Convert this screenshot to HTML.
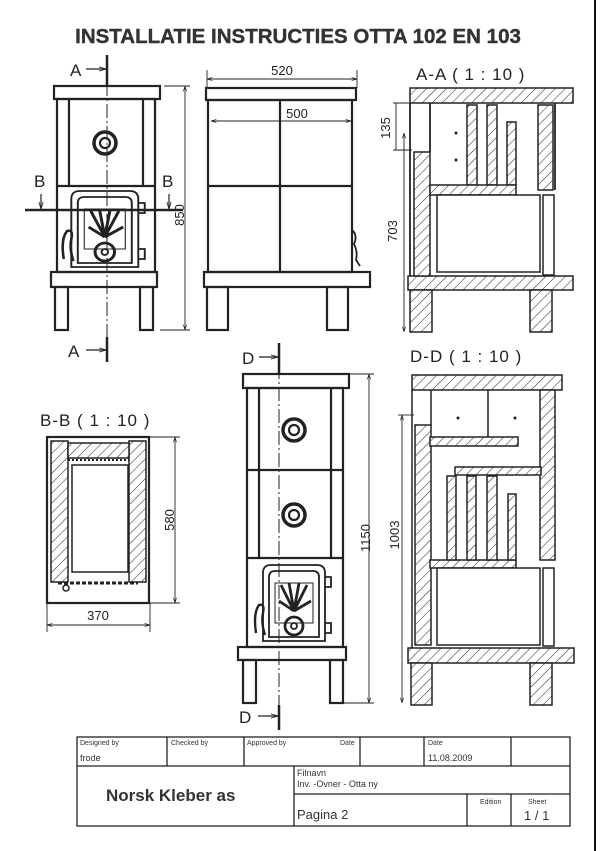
<!DOCTYPE html>
<html><head><meta charset="utf-8"><style>
html,body{margin:0;padding:0;background:#fff;}
svg{display:block;font-family:"Liberation Sans",sans-serif;}
</style></head><body>
<svg width="601" height="851" viewBox="0 0 601 851" xmlns="http://www.w3.org/2000/svg">
<defs>
<pattern id="h" width="7" height="7" patternUnits="userSpaceOnUse" patternTransform="rotate(45)">
<rect width="7" height="7" fill="#fff"/><line x1="0" y1="0" x2="0" y2="7" stroke="#333" stroke-width="1.1"/></pattern>
<marker id="a" viewBox="0 0 10 10" refX="10" refY="5" markerWidth="6" markerHeight="6" orient="auto-start-reverse"><path d="M0,2L10,5L0,8" fill="none" stroke="#222" stroke-width="1.2"/></marker>
<g id="door" fill="none" stroke="#222" stroke-width="1.8">
<path d="M4,78V10Q4,2 12,2H58Q66,2 66,10V78Z"/>
<path d="M10,74V14Q10,8 16,8H54Q60,8 60,14V74Z"/>
<path d="M16,20H54V60H16Z" stroke-width="1"/>
<path d="M35,48L22,22M35,48L30,20M35,48L40,20M35,48L48,22M35,48L20,38M35,48L52,38" stroke-width="2.8"/>
<circle cx="35" cy="63" r="9" stroke-width="2.8"/><circle cx="35" cy="63" r="3"/>
<path d="M-3,70Q-6,50 0,42Q6,40 4,50Q2,60 6,72" stroke-width="2.4"/>
<path d="M66,14h6v10h-6M66,60h6v10h-6"/>
</g>
</defs>
<rect x="0" y="0" width="601" height="851" fill="#fff"/>
<line x1="595" y1="0" x2="595" y2="851" stroke="#111" stroke-width="2"/>
<text x="298" y="43" text-anchor="middle" font-size="20.5" font-weight="bold" fill="#333" stroke="#333" stroke-width="0.4">INSTALLATIE INSTRUCTIES OTTA 102 EN 103</text>

<g fill="none" stroke="#222" stroke-width="2.2">
<rect x="54" y="86" width="106" height="13"/>
<rect x="57" y="99" width="98" height="173"/>
<line x1="69" y1="99" x2="69" y2="186"/><line x1="143" y1="99" x2="143" y2="186"/>
<line x1="57" y1="186" x2="155" y2="186"/>
<circle cx="105" cy="143" r="11" stroke-width="3.5"/><circle cx="105" cy="143" r="5"/>
<rect x="51" y="272" width="106" height="15"/>
<rect x="55" y="287" width="13" height="43"/><rect x="140" y="287" width="13" height="43"/>
<rect x="206" y="88" width="150" height="12"/>
<rect x="208" y="100" width="144" height="172"/>
<line x1="280" y1="100" x2="280" y2="272"/><line x1="208" y1="186" x2="352" y2="186"/>
<rect x="204" y="272" width="166" height="15"/>
<rect x="207" y="287" width="21" height="43"/><rect x="327" y="287" width="21" height="43"/>
<path d="M352,230q6,5 2,14q4,8 2,16l4,6" stroke-width="1.8"/>
<rect x="243" y="374" width="106" height="14"/>
<rect x="247" y="388" width="96" height="259"/>
<line x1="259" y1="388" x2="259" y2="558"/><line x1="331" y1="388" x2="331" y2="558"/>
<line x1="247" y1="470" x2="343" y2="470"/><line x1="247" y1="558" x2="343" y2="558"/>
<circle cx="294" cy="430" r="11" stroke-width="3.5"/><circle cx="294" cy="430" r="5"/>
<circle cx="294" cy="515" r="11" stroke-width="3.5"/><circle cx="294" cy="515" r="5"/>
<rect x="238" y="647" width="108" height="13"/>
<rect x="243" y="660" width="13" height="43"/><rect x="330" y="660" width="13" height="43"/>
</g>
<use href="#door" transform="translate(67,189) scale(1.08,1)"/>
<use href="#door" transform="translate(259,563) scale(1.0,1)"/>

<g stroke="#222" fill="none">
<line x1="107" y1="60" x2="107" y2="350" stroke-width="1" stroke-dasharray="14,3,2,3"/>
<line x1="107" y1="55" x2="107" y2="86" stroke-width="2.5"/>
<line x1="107" y1="337" x2="107" y2="362" stroke-width="2.5"/>
<line x1="25" y1="210" x2="183" y2="210" stroke-width="2.5"/>
<line x1="279" y1="343" x2="279" y2="730" stroke-width="1" stroke-dasharray="14,3,2,3"/>
<line x1="279" y1="343" x2="279" y2="374" stroke-width="2.5"/>
<line x1="279" y1="705" x2="279" y2="730" stroke-width="2.5"/>
<g stroke-width="1.2" marker-end="url(#a)">
<line x1="86" y1="69" x2="106" y2="69"/><line x1="86" y1="350" x2="106" y2="350"/>
<line x1="41" y1="194" x2="41" y2="209"/><line x1="169" y1="194" x2="169" y2="209"/>
<line x1="259" y1="357" x2="278" y2="357"/><line x1="258" y1="716" x2="278" y2="716"/>
</g>
</g>
<g font-size="17" fill="#222">
<text x="70" y="76">A</text><text x="68" y="357">A</text>
<text x="34" y="187">B</text><text x="162" y="187">B</text>
<text x="242" y="364">D</text><text x="239" y="723">D</text>
</g>

<g stroke="#222" stroke-width="0.9" fill="none">
<line x1="164" y1="86" x2="190" y2="86"/><line x1="160" y1="330" x2="190" y2="330"/>
<line x1="185" y1="86" x2="185" y2="330" marker-start="url(#a)" marker-end="url(#a)"/>
<line x1="207" y1="70" x2="207" y2="88"/><line x1="357" y1="70" x2="357" y2="88"/>
<line x1="207" y1="79" x2="357" y2="79" marker-start="url(#a)" marker-end="url(#a)"/>
<line x1="211" y1="121" x2="351" y2="121" marker-start="url(#a)" marker-end="url(#a)"/>
<line x1="349" y1="374" x2="374" y2="374"/><line x1="343" y1="703" x2="374" y2="703"/>
<line x1="369" y1="374" x2="369" y2="703" marker-start="url(#a)" marker-end="url(#a)"/>
<line x1="149" y1="437" x2="180" y2="437"/><line x1="149" y1="603" x2="180" y2="603"/>
<line x1="175" y1="437" x2="175" y2="603" marker-start="url(#a)" marker-end="url(#a)"/>
<line x1="47" y1="603" x2="47" y2="632"/><line x1="150" y1="603" x2="150" y2="632"/>
<line x1="47" y1="625" x2="150" y2="625" marker-start="url(#a)" marker-end="url(#a)"/>
<line x1="72" y1="488" x2="128" y2="488" marker-start="url(#a)" marker-end="url(#a)"/>
<line x1="95" y1="467" x2="95" y2="570" marker-start="url(#a)" marker-end="url(#a)"/>
<line x1="393" y1="103" x2="412" y2="103"/><line x1="393" y1="150" x2="412" y2="150"/>
<line x1="396" y1="103" x2="396" y2="150"/>
<line x1="404" y1="133" x2="404" y2="332" marker-start="url(#a)" marker-end="url(#a)"/>
<line x1="462" y1="197" x2="462" y2="271" marker-start="url(#a)" marker-end="url(#a)"/>
<line x1="402" y1="415" x2="402" y2="703" marker-start="url(#a)" marker-end="url(#a)"/>
<line x1="398" y1="415" x2="414" y2="415"/>
</g>
<g font-size="13" fill="#222">
<text x="190" y="215" transform="rotate(-90 190 215)" text-anchor="middle" dy="-6">850</text>
<text x="282" y="75" text-anchor="middle">520</text>
<text x="297" y="118" text-anchor="middle">500</text>
<text x="374" y="538" transform="rotate(-90 374 538)" text-anchor="middle" dy="-4">1150</text>
<text x="180" y="520" transform="rotate(-90 180 520)" text-anchor="middle" dy="-6">580</text>
<text x="98" y="620" text-anchor="middle">370</text>
<text x="111" y="484" text-anchor="middle">225</text>
<text x="90" y="518" transform="rotate(-90 90 518)" text-anchor="middle">364</text>
<text x="390" y="128" transform="rotate(-90 390 128)" text-anchor="middle">135</text>
<text x="397" y="231" transform="rotate(-90 397 231)" text-anchor="middle">703</text>
<text x="456" y="235" transform="rotate(-90 456 235)" text-anchor="middle">270</text>
<text x="399" y="535" transform="rotate(-90 399 535)" text-anchor="middle">1003</text>
</g>
<g font-size="17" fill="#222">
<text x="416" y="80" letter-spacing="1">A-A ( 1 : 10 )</text>
<text x="410" y="362" letter-spacing="1">D-D ( 1 : 10 )</text>
<text x="40" y="426" letter-spacing="1">B-B ( 1 : 10 )</text>
</g>

<g stroke="#222" stroke-width="1.5" fill="url(#h)">
<rect x="410" y="88" width="163" height="15"/>
<rect x="408" y="276" width="165" height="14"/>
<rect x="410" y="290" width="22" height="42"/><rect x="530" y="290" width="22" height="42"/>
<rect x="414" y="152" width="16" height="124"/>
<rect x="538" y="105" width="15" height="85"/>
<rect x="467" y="105" width="10" height="80"/><rect x="487" y="105" width="10" height="80"/>
<rect x="507" y="122" width="9" height="63"/>
<rect x="430" y="185" width="86" height="10"/>
<rect x="543" y="195" width="11" height="80" fill="#fff"/>
<rect x="437" y="195" width="103" height="77" fill="#fff"/>
</g>
<g stroke="#222" stroke-width="1.8" fill="none">
<line x1="410" y1="103" x2="410" y2="276"/><line x1="555" y1="103" x2="555" y2="190"/>
<line x1="430" y1="103" x2="430" y2="152"/>
</g>
<circle cx="456" cy="133" r="1.5" fill="#222"/><circle cx="456" cy="160" r="1.5" fill="#222"/>

<g stroke="#222" stroke-width="1.5" fill="url(#h)">
<rect x="412" y="375" width="150" height="15"/>
<rect x="408" y="648" width="166" height="15"/>
<rect x="411" y="663" width="21" height="42"/><rect x="530" y="663" width="22" height="42"/>
<rect x="415" y="425" width="16" height="220"/>
<rect x="540" y="390" width="15" height="170"/>
<rect x="430" y="437" width="88" height="9"/>
<rect x="455" y="467" width="86" height="8"/>
<rect x="430" y="560" width="86" height="8"/>
<rect x="447" y="476" width="9" height="84"/><rect x="467" y="476" width="9" height="84"/>
<rect x="487" y="476" width="10" height="84"/><rect x="508" y="494" width="8" height="66"/>
<rect x="437" y="568" width="103" height="77" fill="#fff"/>
<rect x="543" y="568" width="11" height="78" fill="#fff"/>
</g>
<g stroke="#222" stroke-width="1.5" fill="none">
<line x1="412" y1="390" x2="412" y2="648"/><line x1="488" y1="390" x2="488" y2="437"/>
<line x1="431" y1="390" x2="431" y2="425"/>
</g>
<circle cx="458" cy="418" r="1.5" fill="#222"/><circle cx="515" cy="418" r="1.5" fill="#222"/>

<g stroke="#222" stroke-width="1.5">
<rect x="47" y="437" width="102" height="166" fill="#fff" stroke-width="2.2"/>
<rect x="51" y="441" width="17" height="141" fill="url(#h)"/>
<rect x="129" y="441" width="17" height="141" fill="url(#h)"/>
<rect x="68" y="443" width="61" height="15" fill="url(#h)"/>
<rect x="72" y="465" width="56" height="107" fill="#fff"/>
<line x1="68" y1="460" x2="129" y2="460" stroke-dasharray="2,2" stroke-width="2"/>
<line x1="58" y1="583" x2="138" y2="583" stroke-dasharray="4,2" stroke-width="3"/>
<circle cx="66" cy="588" r="3" fill="#fff"/>
</g>

<g stroke="#222" stroke-width="1.3" fill="none">
<rect x="77" y="737" width="493" height="89"/>
<line x1="77" y1="766" x2="570" y2="766"/>
<line x1="167" y1="737" x2="167" y2="766"/><line x1="244" y1="737" x2="244" y2="766"/>
<line x1="360" y1="737" x2="360" y2="766"/><line x1="424" y1="737" x2="424" y2="766"/>
<line x1="511" y1="737" x2="511" y2="766"/>
<line x1="294" y1="766" x2="294" y2="826"/>
<line x1="294" y1="794" x2="570" y2="794"/>
<line x1="467" y1="794" x2="467" y2="826"/><line x1="511" y1="794" x2="511" y2="826"/>
</g>
<g fill="#333" font-size="7">
<text x="80" y="745">Designed by</text><text x="171" y="745">Checked by</text>
<text x="247" y="745">Approved by</text><text x="340" y="745">Date</text>
<text x="428" y="745">Date</text>
<text x="480" y="804">Edition</text><text x="528" y="804">Sheet</text>
</g>
<g fill="#333" font-size="9">
<text x="80" y="761">frode</text><text x="428" y="761">11.08.2009</text>
<text x="297" y="776">Filnavn</text><text x="297" y="787">Inv. -Ovner - Otta ny</text>
</g>
<text x="106" y="801" font-size="17" font-weight="bold" fill="#333">Norsk Kleber as</text>
<text x="297" y="819" font-size="13" fill="#333">Pagina 2</text>
<text x="524" y="820" font-size="13" fill="#333">1 / 1</text>
</svg>
</body></html>
